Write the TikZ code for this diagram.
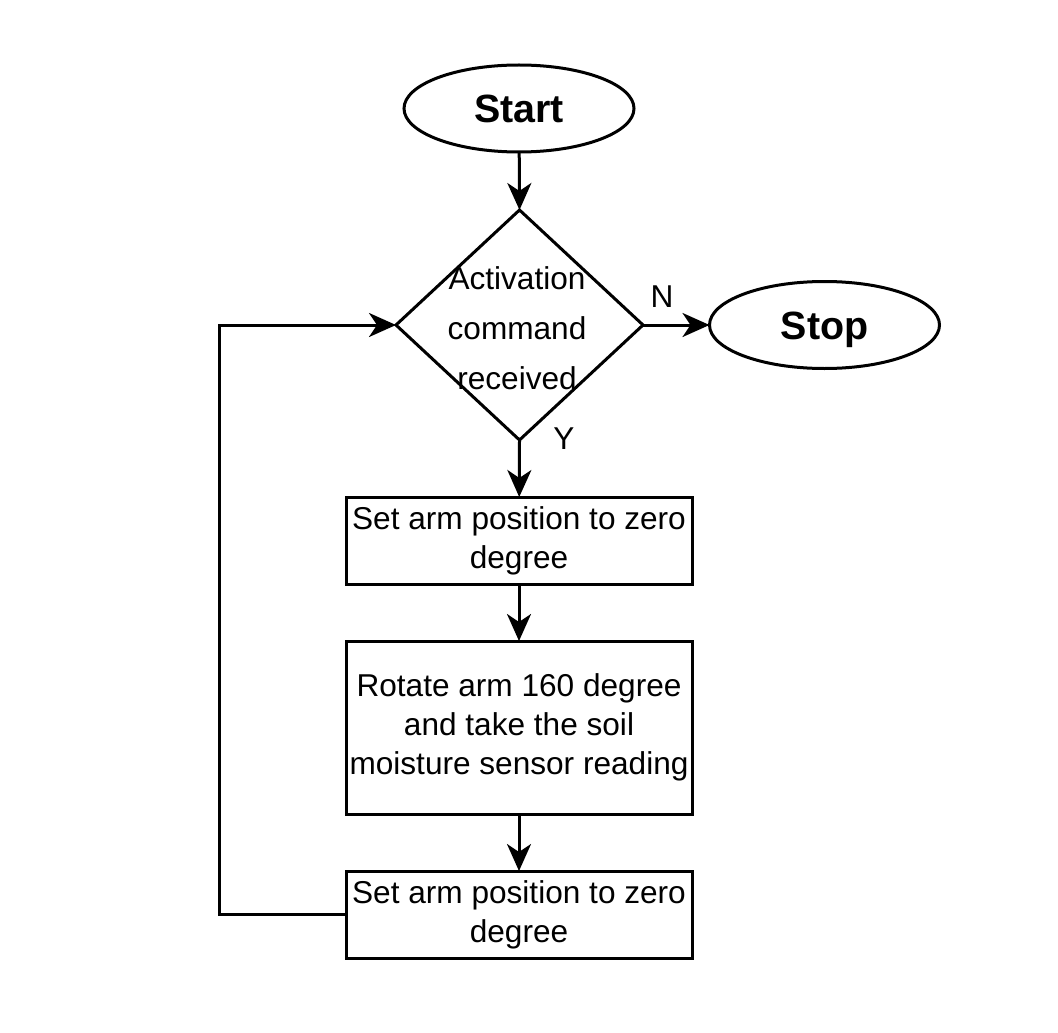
\documentclass[tikz,border=0pt]{standalone}
\usepackage{fontspec}
\setmainfont{Liberation Sans}
\usetikzlibrary{shapes.geometric,arrows.meta}
\begin{document}
\begin{tikzpicture}[x=0.5pt,y=-0.5pt,
  line width=1.5pt,
  every node/.style={inner sep=0pt,outer sep=0pt},
  term/.style={draw,ellipse,minimum width=115pt,minimum height=43.5pt,text height=14.1pt,text depth=0pt,font=\fontsize{19.7}{23}\selectfont\bfseries},
  dec/.style={draw,diamond,minimum width=123.5pt,minimum height=115pt},
  proc/.style={draw,rectangle,minimum width=173pt,align=center,font=\fontsize{15.8}{19.5}\selectfont},
  txt/.style={align=center,font=\fontsize{15.8}{19.5}\selectfont},
  arr/.style={-{Stealth[length=13.5pt,width=12pt,inset=4pt]}}]
\useasboundingbox (0,0) rectangle (1058,1032);
\node[term] (start) at (519,108.5) {Start};
\node[dec] (dec) at (519.5,325) {};
\node[txt,font=\fontsize{15.8}{25}\selectfont] (dectxt) at (517,328) {Activation\\command\\received};
\node[term] (stop) at (824.5,325) {Stop};
\node[proc,minimum height=43.5pt] (b1) at (519,540.5) {Set arm position to zero\\degree};
\node[proc,minimum height=86.5pt] (b2) at (519,727.5) {Rotate arm 160 degree\\and take the soil\\moisture sensor reading};
\node[proc,minimum height=43.5pt] (b3) at (519,914.5) {Set arm position to zero\\degree};
\node[txt] (nlab) at (662,297) {N};
\node[txt] (ylab) at (564,439) {Y};
\coordinate (lb) at (219,914.5);
\coordinate (lt) at (219,325);
\draw[arr] (start) -- (dec.north);
\draw[arr] (dec.east) -- (stop);
\draw[arr] (dec.south) -- (b1);
\draw[arr] (b1) -- (b2);
\draw[arr] (b2) -- (b3);
\draw[arr] (b3.west) -- (lb) -- (lt) -- (dec.west);
\end{tikzpicture}
\end{document}
